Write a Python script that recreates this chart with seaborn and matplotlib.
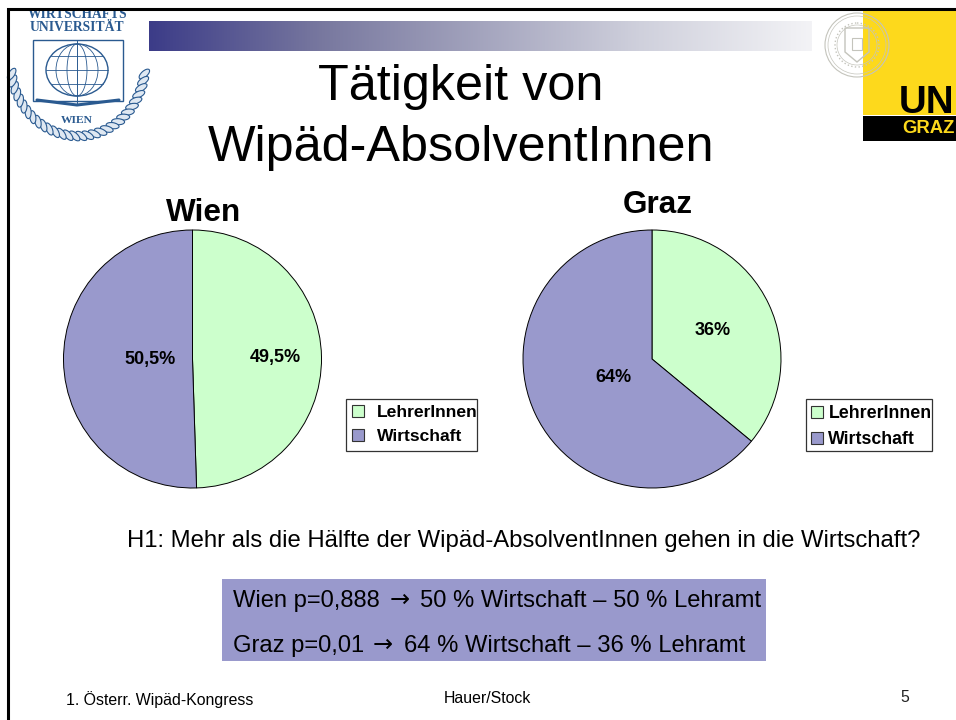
import numpy as np
import matplotlib
matplotlib.use('Agg')
import matplotlib.pyplot as plt
import seaborn as sns
from matplotlib.colors import LinearSegmentedColormap
from matplotlib.patches import Rectangle, Circle, Ellipse, Polygon, Patch

# chart data
categories = ['LehrerInnen', 'Wirtschaft']
wien_values = [49.5, 50.5]
graz_values = [36, 64]
wien_labels = ['49,5%', '50,5%']
graz_labels = ['36%', '64%']

title_lines = ['Tätigkeit von', 'Wipäd-AbsolventInnen']
hypothesis = 'H1: Mehr als die Hälfte der Wipäd-AbsolventInnen gehen in die Wirtschaft?'
result_wien = ['Wien p=0,888', '→', '50 % Wirtschaft – 50 % Lehramt']
result_graz = ['Graz p=0,01', '→', '64 % Wirtschaft – 36 % Lehramt']
footer_left = '1. Österr. Wipäd-Kongress'
footer_mid = 'Hauer/Stock'
page_no = '5'

W, H = 956, 720
GREEN = '#ccffcc'
PURPLE = '#9999cc'
BLUE = '#2a5a90'

sns.set_theme(style='white')
plt.rcParams['font.family'] = ['Liberation Sans', 'DejaVu Sans']
palette = sns.color_palette([GREEN, PURPLE])


def px(size):
    # font size given in pixels
    return size * 0.72


fig = plt.figure(figsize=(W / 100, H / 100), dpi=100, facecolor='white')

# whole slide in pixel coordinates for the decoration and the text
bg = fig.add_axes([0, 0, 1, 1])
bg.set_xlim(0, W)
bg.set_ylim(H, 0)
bg.axis('off')


def draw_header():
    # gradient band
    cmap = LinearSegmentedColormap.from_list(
        'band', [(0, '#3c3c88'), (0.26, '#78789f'), (0.74, '#cfd0dc'), (1, '#f3f3f6')])
    bg.imshow(np.linspace(0, 1, 256).reshape(1, -1), extent=(149, 812, 51, 21),
              cmap=cmap, aspect='auto', zorder=1)
    bg.set_xlim(0, W)
    bg.set_ylim(H, 0)

    # Uni Graz logo
    bg.add_patch(Rectangle((863, 9), 93, 106, color='#fdd91c', lw=0, zorder=1))
    bg.add_patch(Rectangle((863, 116), 93, 25, color='black', lw=0, zorder=1))
    bg.text(899, 113, 'UN', fontsize=px(38.5), fontweight='bold', color='black',
            va='baseline', ha='left', zorder=2)
    bg.text(902, 133, 'GRAZ', fontsize=px(18.5), fontweight='bold', color='#fdd91c',
            va='baseline', ha='left', zorder=2)

    # seal
    seal = '#c4c4bc'
    for r, lw, ls in [(32, 0.8, '-'), (29, 0.5, '-'), (22, 1.0, ':'), (20, 0.5, '-')]:
        bg.add_patch(Circle((857, 45), r, fill=False, ec=seal, lw=lw, ls=ls, zorder=3))
    bg.add_patch(Polygon([(845, 28), (869, 28), (869, 52), (857, 62), (845, 52)],
                         closed=True, fill=False, ec=seal, lw=1.0, zorder=3))
    bg.add_patch(Rectangle((852, 38), 10, 12, fill=False, ec=seal, lw=0.8, zorder=3))

    # WU logo
    bg.text(78, 17.5, 'WIRTSCHAFTS', fontsize=px(13.5), fontweight='bold', family='Liberation Serif',
            color=BLUE, ha='center', va='baseline')
    bg.text(77, 31, 'UNIVERSITÄT', fontsize=px(13.5), fontweight='bold', family='Liberation Serif',
            color=BLUE, ha='center', va='baseline')
    bg.add_patch(Rectangle((33, 40), 90, 61, fill=False, ec=BLUE, lw=1.0))
    bg.plot([37, 77, 119], [100, 105, 100], color=BLUE, lw=2.2)
    bg.plot([77, 77], [40, 104], color=BLUE, lw=0.7)
    bg.add_patch(Ellipse((77, 70), 62, 52, fill=False, ec=BLUE, lw=1.0, zorder=3))
    for w in (20, 42):
        bg.add_patch(Ellipse((77, 70), w, 52, fill=False, ec=BLUE, lw=0.6, zorder=3))
    for dy in (-14, 0, 14):
        half = 31 * np.sqrt(1 - (dy / 26) ** 2)
        bg.plot([77 - half, 77 + half], [70 + dy, 70 + dy], color=BLUE, lw=0.6, zorder=3)
    bg.text(77, 123, 'WIEN', fontsize=px(11.5), fontweight='bold', family='Liberation Serif',
            color=BLUE, ha='center', va='baseline')

    # laurel
    for a in np.linspace(8, 172, 30):
        rad = np.radians(a)
        x = 78 + 67 * np.cos(rad)
        y = 64 + 72 * np.sin(rad)
        bg.add_patch(Ellipse((x, y), 13, 6, angle=a + 130, fc='#dfe8f2', ec=BLUE, lw=0.8))


draw_header()

# slide frame
bg.plot([8.5, 8.5, W], [H, 8.5, 8.5], color='black', lw=2.2, zorder=6,
        solid_joinstyle='miter')

# titles
bg.text(461, 100, title_lines[0], fontsize=px(50.4), color='black', ha='center', va='baseline')
bg.text(461, 161, title_lines[1], fontsize=px(50.4), color='black', ha='center', va='baseline')
bg.text(204, 221, 'Wien', fontsize=px(31.5), fontweight='bold', color='black', ha='center', va='baseline')
bg.text(658, 213, 'Graz', fontsize=px(31.5), fontweight='bold', color='black', ha='center', va='baseline')


def draw_pie(cx, cy, r, values, labels, distances):
    ax = fig.add_axes([(cx - r) / W, 1 - (cy + r) / H, 2 * r / W, 2 * r / H])
    ax.patch.set_alpha(0)
    counter = iter(labels)
    wedges, _, autotexts = ax.pie(values, colors=palette, startangle=90, counterclock=False,
                                  radius=1, autopct=lambda p: next(counter), pctdistance=1,
                                  wedgeprops={'edgecolor': 'black', 'linewidth': 0.7,
                                              'clip_on': False})
    ax.set_xlim(-1, 1)
    ax.set_ylim(-1, 1)
    for t, d in zip(autotexts, distances):
        x, y = t.get_position()
        t.set_position((x * d, y * d))
        t.set_fontsize(px(18))
        t.set_fontweight('bold')
        t.set_color('black')
    return wedges


draw_pie(192.5, 359, 129, wien_values, wien_labels, [0.64, 0.33])
draw_pie(652, 359, 129, graz_values, graz_labels, [0.52, 0.33])


def draw_legend(x0, x1, y0, y1, handle_x, pad, size):
    # frame first, then the legend itself (the text may run up to the frame)
    bg.add_patch(Rectangle((x0, y0), x1 - x0, y1 - y0, fc='white', ec='#333333', lw=0.9, zorder=2))
    handles = [Patch(facecolor=c, edgecolor='#333333', linewidth=0.8) for c in palette]
    fig.legend(handles, categories, loc='upper left', labelcolor='black',
               bbox_to_anchor=(handle_x / W, 1 - (y0 + 6) / H), bbox_transform=fig.transFigure,
               frameon=False, borderaxespad=0, borderpad=0, prop={'size': px(size), 'weight': 'bold'},
               handlelength=0.68, handleheight=0.68, handletextpad=pad, labelspacing=0.52)


draw_legend(346, 477, 399, 451, 352, 0.72, 17.5)
draw_legend(806, 932, 399, 451, 811, 0.3, 17.8)

# hypothesis and result box
bg.text(127, 547, hypothesis, fontsize=px(23.85), color='black', ha='left', va='baseline')
bg.add_patch(Rectangle((222, 579), 544, 82, color=PURPLE, lw=0, zorder=1))
for (left, arrow, right), y, x_arrow, x_right in [(result_wien, 607, 390, 420),
                                                  (result_graz, 652, 373, 404)]:
    bg.text(233, y, left, fontsize=px(23.8), color='black', ha='left', va='baseline', zorder=2)
    bg.text(x_arrow, y, arrow, fontsize=px(24), color='black', ha='left', va='baseline', zorder=2,
            family='DejaVu Sans')
    bg.text(x_right, y, right, fontsize=px(23.8), color='black', ha='left', va='baseline', zorder=2)

# footer
bg.text(66, 705, footer_left, fontsize=px(15.9), color='black', ha='left', va='baseline')
bg.text(487, 703, footer_mid, fontsize=px(15.9), color='black', ha='center', va='baseline')
bg.text(905, 702, page_no, fontsize=px(15.9), color='#222222', ha='center', va='baseline')

fig.savefig('out.png', dpi=100)
